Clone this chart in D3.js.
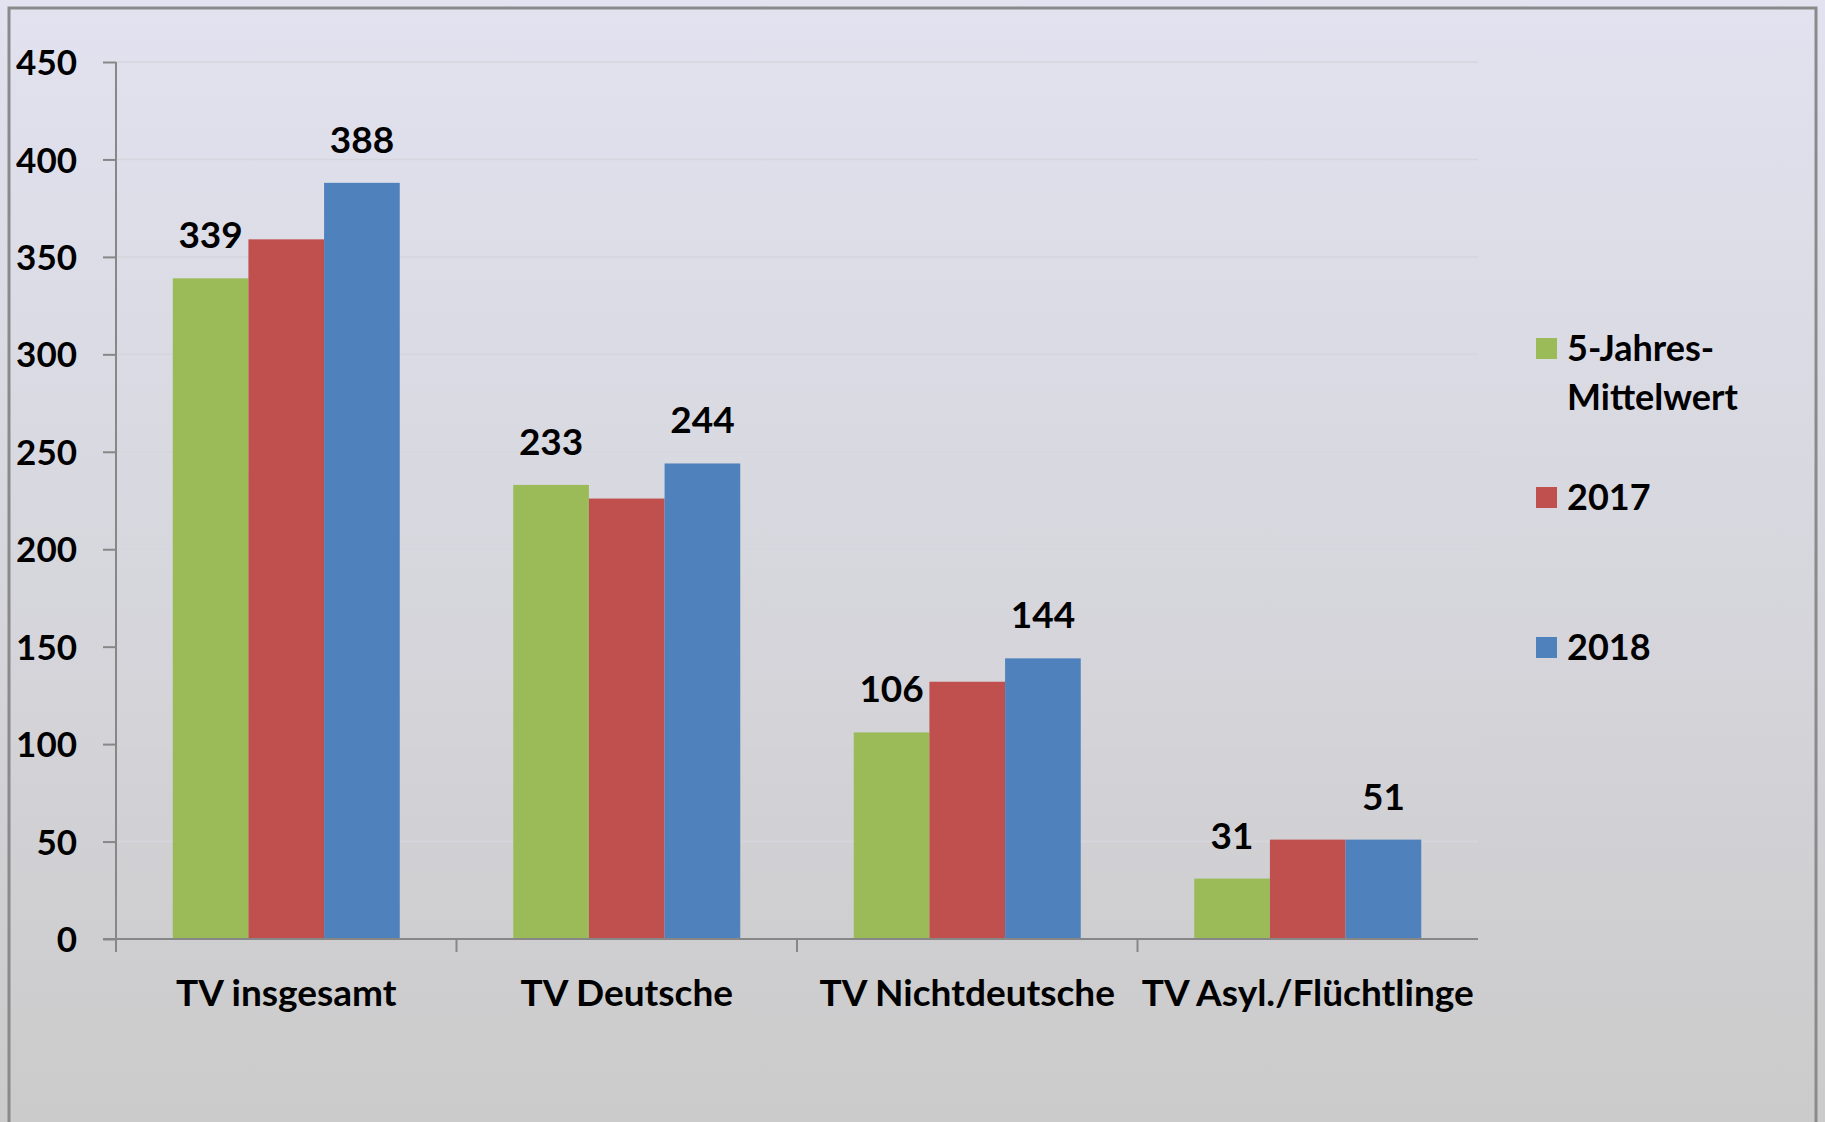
<!DOCTYPE html>
<html>
<head>
<meta charset="utf-8">
<script src="https://cdn.jsdelivr.net/npm/d3@7"></script>
<style>
  body { margin: 0; padding: 0; overflow: hidden; }
  text { font-family: Lato, "Open Sans", sans-serif; font-weight: bold; fill: #000; }
</style>
</head>
<body>
<div id="canvas"></div>
<script>
const categories = ["TV insgesamt", "TV Deutsche", "TV Nichtdeutsche", "TV Asyl./Flüchtlinge"];
const series = ["5-Jahres-Mittelwert", "2017", "2018"];
const seriesLegend = [["5-Jahres-", "Mittelwert"], ["2017"], ["2018"]];
const mittelwert = [339, 233, 106, 31];
const values2017 = [359, 226, 132, 51];
const values2018 = [388, 244, 144, 51];
const yTicks = [0, 50, 100, 150, 200, 250, 300, 350, 400, 450];
const labelled = [true, false, true];

const width = 1825;
const height = 1122;
const margin = { top: 62, left: 116, bottom: 183, right: 347 };
const iwidth = width - margin.left - margin.right;
const iheight = height - margin.top - margin.bottom;
const colors = ["#9bbb59", "#c0504d", "#4f81bd"];

const table = categories.map((c, i) => ({
  name: c,
  values: [mittelwert[i], values2017[i], values2018[i]]
}));

const svg = d3.select("#canvas").append("svg")
  .attr("width", width)
  .attr("height", height);

const grad = svg.append("defs").append("linearGradient")
  .attr("id", "bg")
  .attr("x1", 0).attr("y1", 0).attr("x2", 0).attr("y2", 1);
grad.append("stop").attr("offset", "0%").attr("stop-color", "#e2e2f0");
grad.append("stop").attr("offset", "100%").attr("stop-color", "#cbcbcb");

svg.append("rect").attr("width", width).attr("height", height).attr("fill", "url(#bg)");
svg.append("rect")
  .attr("x", 9).attr("y", 8)
  .attr("width", 1807).attr("height", 1125)
  .attr("fill", "none")
  .attr("stroke", "#8a8a8a")
  .attr("stroke-width", 3);

const g = svg.append("g").attr("transform", `translate(${margin.left},${margin.top})`);

const x0 = d3.scaleBand().domain(categories).range([0, iwidth]).padding(0);
const x1 = d3.scaleBand().domain(series).range([0, x0.bandwidth()])
  .paddingInner(0).paddingOuter(0.75);
const y = d3.scaleLinear().domain([0, 450]).range([iheight, 0]);

// gridlines
g.append("g")
  .selectAll("line")
  .data(yTicks.slice(1))
  .enter()
  .append("line")
  .attr("x1", 0)
  .attr("x2", iwidth)
  .attr("y1", (d) => y(d))
  .attr("y2", (d) => y(d))
  .attr("stroke", "#d5d5dd")
  .attr("stroke-width", 1.5);

// bars
const groups = g.selectAll(".cat").data(table).enter().append("g")
  .attr("class", "cat")
  .attr("transform", (d) => `translate(${x0(d.name)},0)`);

groups.selectAll("rect")
  .data((d) => d.values.map((v, i) => ({ s: series[i], v: v, i: i })))
  .enter()
  .append("rect")
  .attr("x", (d) => x1(d.s))
  .attr("y", (d) => y(d.v))
  .attr("width", x1.bandwidth())
  .attr("height", (d) => iheight - y(d.v))
  .attr("fill", (d) => colors[d.i]);

groups.selectAll("text")
  .data((d) => d.values.map((v, i) => ({ s: series[i], v: v, i: i })).filter((d) => labelled[d.i]))
  .enter()
  .append("text")
  .attr("x", (d) => x1(d.s) + x1.bandwidth() / 2)
  .attr("y", (d) => y(d.v) - 30)
  .attr("text-anchor", "middle")
  .style("font-size", "37px")
  .text((d) => d.v);

// y axis
const yAxis = g.append("g")
  .call(d3.axisLeft(y).tickValues(yTicks).tickSize(13).tickPadding(26));
yAxis.selectAll("text").style("font-size", "35px").attr("dy", "0.36em");

// x axis
const xAxis = g.append("g")
  .attr("transform", `translate(0,${iheight})`)
  .call(d3.axisBottom(x0).tickSize(0).tickPadding(41));
xAxis.selectAll("text").style("font-size", "37px");
xAxis.selectAll(".tick").append("line")
  .attr("x1", -x0.bandwidth() / 2).attr("x2", -x0.bandwidth() / 2)
  .attr("y1", 0).attr("y2", 13);
xAxis.append("line")
  .attr("x1", iwidth).attr("x2", iwidth)
  .attr("y1", 0).attr("y2", 13);

svg.selectAll(".domain").attr("stroke", "#878787").attr("stroke-width", 2);
svg.selectAll(".tick line").attr("stroke", "#878787").attr("stroke-width", 2);
yAxis.select(".domain").attr("d", `M0,${iheight}V0`);
xAxis.select(".domain").attr("d", `M-13,0H${iwidth}`);

// legend
const legend = svg.append("g").attr("transform", "translate(1536,0)");
const legendY = [348, 497, 647];
seriesLegend.forEach((lines, i) => {
  legend.append("rect")
    .attr("x", 0)
    .attr("y", legendY[i] - 10)
    .attr("width", 21)
    .attr("height", 21)
    .attr("fill", colors[i]);
  lines.forEach((t, j) => {
    legend.append("text")
      .attr("x", 31)
      .attr("y", legendY[i] + j * 49)
      .attr("dy", "0.36em")
      .style("font-size", "36px")
      .text(t);
  });
});
</script>
</body>
</html>
